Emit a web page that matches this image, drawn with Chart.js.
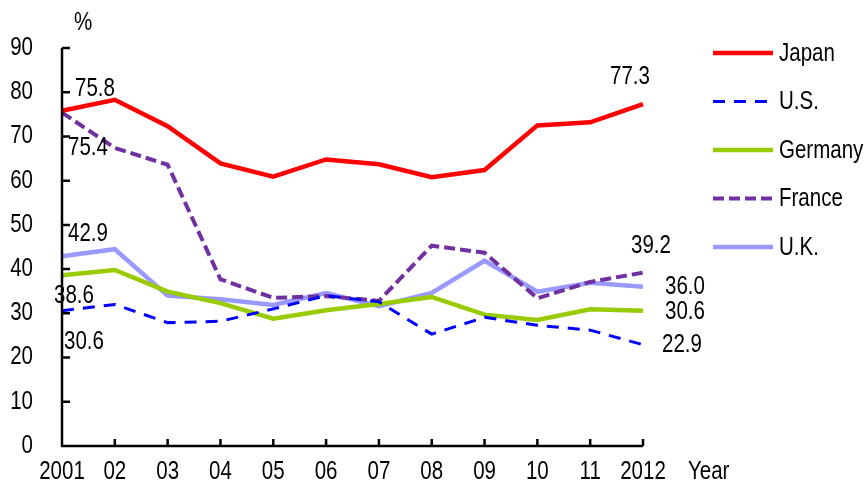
<!DOCTYPE html>
<html>
<head>
<meta charset="utf-8">
<script src="https://cdn.jsdelivr.net/npm/chart.js@4/dist/chart.umd.min.js"></script>
<style>
  html, body { margin: 0; padding: 0; background: #fff; }
  #wrap { width: 864px; height: 487px; position: relative; }
</style>
</head>
<body>
<div id="wrap"><canvas id="grafico"></canvas></div>
<script>
// Datos
const years = ['2001', '02', '03', '04', '05', '06', '07', '08', '09', '10', '11', '2012'];
const japan   = [75.8, 78.3, 72.3, 63.9, 60.9, 64.8, 63.7, 60.8, 62.4, 72.5, 73.2, 77.3];
const us      = [30.6, 32.0, 27.9, 28.2, 31.0, 34.0, 32.6, 25.3, 29.1, 27.3, 26.2, 22.9];
const germany = [38.6, 39.8, 34.9, 32.3, 28.8, 30.7, 32.1, 33.7, 29.7, 28.5, 30.9, 30.6];
const france  = [75.4, 67.4, 63.6, 37.7, 33.5, 33.9, 32.8, 45.3, 43.7, 33.4, 37.1, 39.2];
const uk      = [42.9, 44.5, 34.0, 33.2, 31.9, 34.6, 31.6, 34.6, 41.9, 34.9, 36.9, 36.0];
const yTicks  = [0, 10, 20, 30, 40, 50, 60, 70, 80, 90];

const FONT = "'Liberation Sans', Arial, sans-serif";
const FONT_SIZE = 25;
const STRETCH = 0.82; // el original usa una letra estrecha

// Etiquetas de valor: [índice del punto, dx, dy] respecto al punto
const series = [
    { name: 'Japan',   data: japan,   color: '#ff0000', width: 4.5, dash: [],      labels: [[0, 33, -22], [11, -13, -27]] },
    { name: 'U.S.',    data: us,      color: '#0000ff', width: 3,   dash: [12, 9], labels: [[0, 22, 31], [11, 39, 0]] },
    { name: 'Germany', data: germany, color: '#99cc00', width: 4.5, dash: [],      labels: [[0, 12, 21], [11, 42, 1]] },
    { name: 'France',  data: france,  color: '#7030a0', width: 4,   dash: [11, 5], labels: [[0, 26, 36], [11, 8, -27]] },
    { name: 'U.K.',    data: uk,      color: '#9999ff', width: 4.5, dash: [],      labels: [[0, 26, -22], [11, 42, 0]] }
];

// Texto comprimido horizontalmente
function texto(ctx, str, x, y, align) {
    ctx.save();
    ctx.translate(x, y);
    ctx.scale(STRETCH, 1);
    ctx.textAlign = align;
    ctx.textBaseline = 'middle';
    ctx.fillText(str, 0, 0);
    ctx.restore();
}

// Plugin: ejes con marcas hacia dentro, rótulos, etiquetas de valor y leyenda
const decoraciones = {
    id: 'decoraciones',
    afterDatasetsDraw(chart) {
        const ctx = chart.ctx;
        const xs = chart.scales.x, ys = chart.scales.y;
        const a = chart.chartArea;
        ctx.save();
        ctx.strokeStyle = '#000';
        ctx.lineWidth = 2.5;
        ctx.beginPath();
        ctx.moveTo(a.left, a.top);
        ctx.lineTo(a.left, a.bottom);
        ctx.lineTo(a.right, a.bottom);
        yTicks.forEach(v => {
            const y = ys.getPixelForValue(v);
            ctx.moveTo(a.left, y);
            ctx.lineTo(a.left + 8, y);
        });
        years.forEach((_, i) => {
            const x = xs.getPixelForValue(i);
            ctx.moveTo(x, a.bottom);
            ctx.lineTo(x, a.bottom - 7);
        });
        ctx.stroke();

        ctx.fillStyle = '#000';
        ctx.font = FONT_SIZE + 'px ' + FONT;

        // Rótulos de los ejes
        yTicks.forEach(v => texto(ctx, String(v), a.left - 29, ys.getPixelForValue(v), 'right'));
        years.forEach((yr, i) => texto(ctx, yr, xs.getPixelForValue(i), a.bottom + 26, 'center'));

        // Valores al inicio y al final
        series.forEach(s => {
            s.labels.forEach(([i, dx, dy]) => {
                const x = xs.getPixelForValue(i) + dx;
                const y = ys.getPixelForValue(s.data[i]) + dy;
                texto(ctx, s.data[i].toFixed(1), x, y, 'center');
            });
        });

        texto(ctx, '%', 83, 23, 'center');
        texto(ctx, 'Year', 688, 472, 'left');

        // Leyenda
        series.forEach((s, k) => {
            const y = 53 + k * 48.5;
            ctx.beginPath();
            ctx.strokeStyle = s.color;
            ctx.lineWidth = s.width;
            ctx.setLineDash(s.dash);
            ctx.moveTo(713, y);
            ctx.lineTo(773, y);
            ctx.stroke();
            ctx.setLineDash([]);
            texto(ctx, s.name, 779, y + 1, 'left');
        });
        ctx.restore();
    }
};

new Chart(document.getElementById('grafico'), {
    type: 'line',
    data: {
        labels: years,
        datasets: series.map(s => ({
            label: s.name,
            data: s.data,
            borderColor: s.color,
            borderWidth: s.width,
            borderDash: s.dash,
            pointRadius: 0,
            tension: 0,
            fill: false
        }))
    },
    options: {
        responsive: true,
        maintainAspectRatio: false,
        animation: false,
        layout: { padding: { top: 48, right: 221, left: 0, bottom: 0 } },
        plugins: {
            legend: { display: false },
            tooltip: { enabled: false }
        },
        scales: {
            x: {
                offset: false,
                grid: { display: false, drawTicks: false },
                border: { display: false },
                ticks: { display: false },
                afterFit(scale) { scale.height = 41; }
            },
            y: {
                min: 0,
                max: 90,
                grid: { display: false, drawTicks: false },
                border: { display: false },
                ticks: { display: false, stepSize: 10 },
                afterFit(scale) { scale.width = 62; }
            }
        }
    },
    plugins: [decoraciones]
});
</script>
</body>
</html>
